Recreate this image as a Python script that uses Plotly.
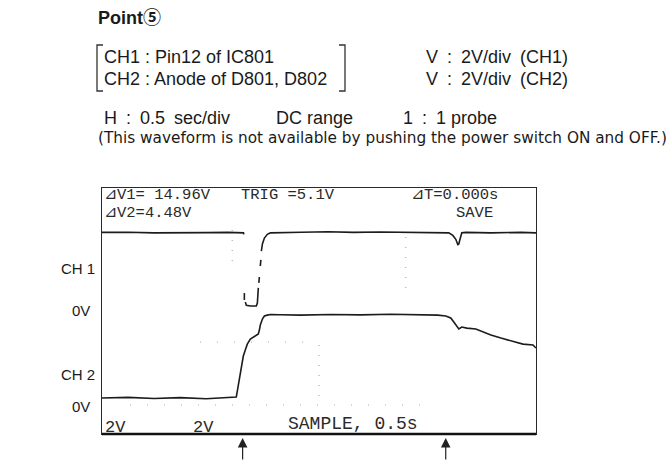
import plotly.graph_objects as go

W, H = 672, 461

# Time base: 0.5 s/div over 10 divisions
T_SPAN = 5.0
VOLTS_PER_DIV = 2.0

# CH1 : Pin12 of IC801 (volts); None leaves gaps where the fast edges fade out
ch1_t = [0, 0.30, 0.60, 0.90, 1.20, 1.45, 1.63, 1.634, None, 1.640, 1.640, None,
         1.651, 1.663, 1.709, 1.778, 1.790, 1.796, 1.801, None, 1.807, 1.813, None,
         1.824, 1.830, None, 1.836, 1.848, 1.871, 1.905, 1.940, 2.055,
         2.30, 2.60, 2.90, 3.20, 3.50, 3.80, 3.995,
         4.042, 4.076, 4.099, 4.111, 4.122, 4.134, 4.145, 4.192, 4.48, 4.83, 5.0]
ch1_v = [3.35, 3.36, 3.33, 3.35, 3.34, 3.35, 3.33, 3.26, None, 0.55, 0.23, None,
         0.14, -0.02, -0.05, -0.05, 0.09, 0.42, 0.79, None, 1.02, 1.29, None,
         1.80, 2.08, None, 2.49, 2.82, 3.09, 3.26, 3.33, 3.35,
         3.36, 3.38, 3.35, 3.37, 3.36, 3.35, 3.33,
         3.21, 3.03, 2.79, 2.82, 3.00, 3.23, 3.33, 3.35, 3.33, 3.35, 3.33]

# CH2 : Anode of D801, D802 (volts)
ch2_t = [0, 0.3, 0.6, 0.9, 1.2, 1.45,
         1.547, 1.559, 1.582, 1.605, 1.628, 1.651, 1.674, 1.709, 1.744, 1.778,
         1.801, 1.813, 1.824, 1.848, 1.871, 1.905, 1.940,
         2.055, 2.286, 2.633, 2.979, 3.326, 3.672, 3.868,
         3.961, 4.018, 4.053, 4.088, 4.111, 4.145, 4.203, 4.307, 4.388, 4.480,
         4.596, 4.711, 4.850, 4.965, 5.0]
ch2_v = [0.0, 0.03, -0.02, 0.02, -0.03, 0.01,
         0.05, 0.32, 0.88, 1.48, 1.94, 2.22, 2.49, 2.72, 2.82, 2.89,
         2.96, 3.14, 3.37, 3.65, 3.79, 3.83, 3.86,
         3.85, 3.83, 3.86, 3.84, 3.87, 3.85, 3.83,
         3.79, 3.70, 3.51, 3.28, 3.19, 3.28, 3.23, 3.19, 3.05, 2.91,
         2.77, 2.63, 2.49, 2.45, 2.31]

# Screen position of each channel's 0 V level, in divisions above the bottom edge
ch1_zero_div = 2.98
ch2_zero_div = 0.83
screen_divs = 5.68

# Moments marked by the arrows under the screen (s)
event_times = [1.62, 3.96]

# Readouts shown on the scope screen
readout_top = ["⊿V1= 14.96V", "⊿V2=4.48V", "TRIG =5.1V", "⊿T=0.000s", "SAVE"]
readout_bottom = ["2V", "2V", "SAMPLE, 0.5s"]


def to_screen(values, zero_div):
    return [None if v is None else zero_div + v / VOLTS_PER_DIV for v in values]


def fx(p):
    return p / W


def fy(p):
    return 1 - p / H


SANS = "Liberation Sans, Arial, Noto Sans CJK JP"
WIDE = "DejaVu Sans, Liberation Sans, sans-serif"
MONO = "Liberation Mono, DejaVu Sans Mono, monospace"
INK = "#1c1c1c"
EN = "\u2002"

fig = go.Figure()
for t, v, z in [(ch1_t, ch1_v, ch1_zero_div), (ch2_t, ch2_v, ch2_zero_div)]:
    fig.add_trace(go.Scatter(
        x=t, y=to_screen(v, z), mode="lines",
        line=dict(color=INK, width=1.6), connectgaps=False,
        hoverinfo="skip", showlegend=False))

X0, X1, Y_TOP, Y_BOT = 102, 536, 188, 434

fig.update_xaxes(range=[0, T_SPAN], domain=[fx(X0), fx(X1)],
                 showgrid=False, zeroline=False, showticklabels=False, ticks="",
                 showline=True, mirror=True, linecolor="#2a2a2a", linewidth=1.4)
fig.update_yaxes(range=[0, screen_divs], domain=[fy(Y_BOT), fy(Y_TOP)],
                 showgrid=False, zeroline=False, showticklabels=False, ticks="",
                 showline=True, mirror=True, linecolor="#2a2a2a", linewidth=1.4)

shapes = []
# heavier bottom edge of the screen
shapes.append(dict(type="line", xref="paper", yref="paper",
                   x0=fx(X0), x1=fx(X1), y0=fy(Y_BOT), y1=fy(Y_BOT),
                   line=dict(color="#111", width=2.4)))
# faint dotted graticule fragments
dot = dict(color="#9a9a9a", width=1, dash="1px,9px")
for t, p0, p1 in [(1.5, 230, 268), (2.5, 345, 403), (3.5, 237, 293)]:
    shapes.append(dict(type="line", xref="x", yref="paper", x0=t, x1=t,
                       y0=fy(p0), y1=fy(p1), line=dot))
for p, a, b in [(342, 200, 305), (405, 130, 420)]:
    shapes.append(dict(type="line", xref="paper", yref="paper", x0=fx(a), x1=fx(b),
                       y0=fy(p), y1=fy(p), line=dict(color="#aaaaaa", width=1,
                                                     dash="1px,16px")))
# brackets around the channel description
for xo, xi in [(97, 103), (345, 339)]:
    shapes.append(dict(type="path", xref="paper", yref="paper",
                       path=f"M {fx(xi)},{fy(45)} L {fx(xo)},{fy(45)} "
                            f"L {fx(xo)},{fy(91)} L {fx(xi)},{fy(91)}",
                       line=dict(color="#333", width=1.3)))

ann = []


def label(text, x, y, size=18, family=SANS, anchor="left", color="#1a1a1a"):
    ann.append(dict(text=text, x=fx(x), y=fy(y), xref="paper", yref="paper",
                    xanchor=anchor, yanchor="middle", showarrow=False,
                    font=dict(family=family, size=size, color=color)))


label("<b>Point⑤</b>", 96, 18, size=18)
label("CH1 : Pin12 of IC801", 102, 57)
label("CH2 : Anode of D801, D802", 102, 79)
label(f"V{EN}:{EN}2V/div{EN}(CH1)", 424, 57)
label(f"V{EN}:{EN}2V/div{EN}(CH2)", 424, 79)
label(f"H{EN}:{EN}0.5{EN}sec/div", 102, 118)
label("DC range", 274, 118)
label(f"1{EN}:{EN}1 probe", 401, 118)
label("(This waveform is not available by pushing the power switch ON and OFF.)",
      96, 138, size=15.3, family=WIDE)

label("CH 1", 97, 268, size=15, anchor="right")
label("0V", 92, 310, size=15, anchor="right")
label("CH 2", 97, 374, size=15, anchor="right")
label("0V", 92, 406, size=15, anchor="right")

for text, x, y in zip(readout_top, [102, 102, 239, 409, 454], [195, 213, 195, 195, 213]):
    label(text, x, y, size=15.5, family=MONO, color="#2a2a2a")
for text, x, y, s in zip(readout_bottom, [103, 191, 286], [427, 427, 424], [17, 17, 18]):
    label(text, x, y, size=s, family=MONO, color="#2a2a2a")

for t in event_times:
    ann.append(dict(x=t, y=fy(438), xref="x", yref="paper", text="",
                    showarrow=True, ax=0, ay=24, arrowhead=2, arrowsize=1.6,
                    arrowwidth=1.2, arrowcolor="#222"))

fig.update_layout(width=W, height=H, margin=dict(l=0, r=0, t=0, b=0),
                  paper_bgcolor="white", plot_bgcolor="white",
                  shapes=shapes, annotations=ann, showlegend=False)

fig.write_html("out.html")
